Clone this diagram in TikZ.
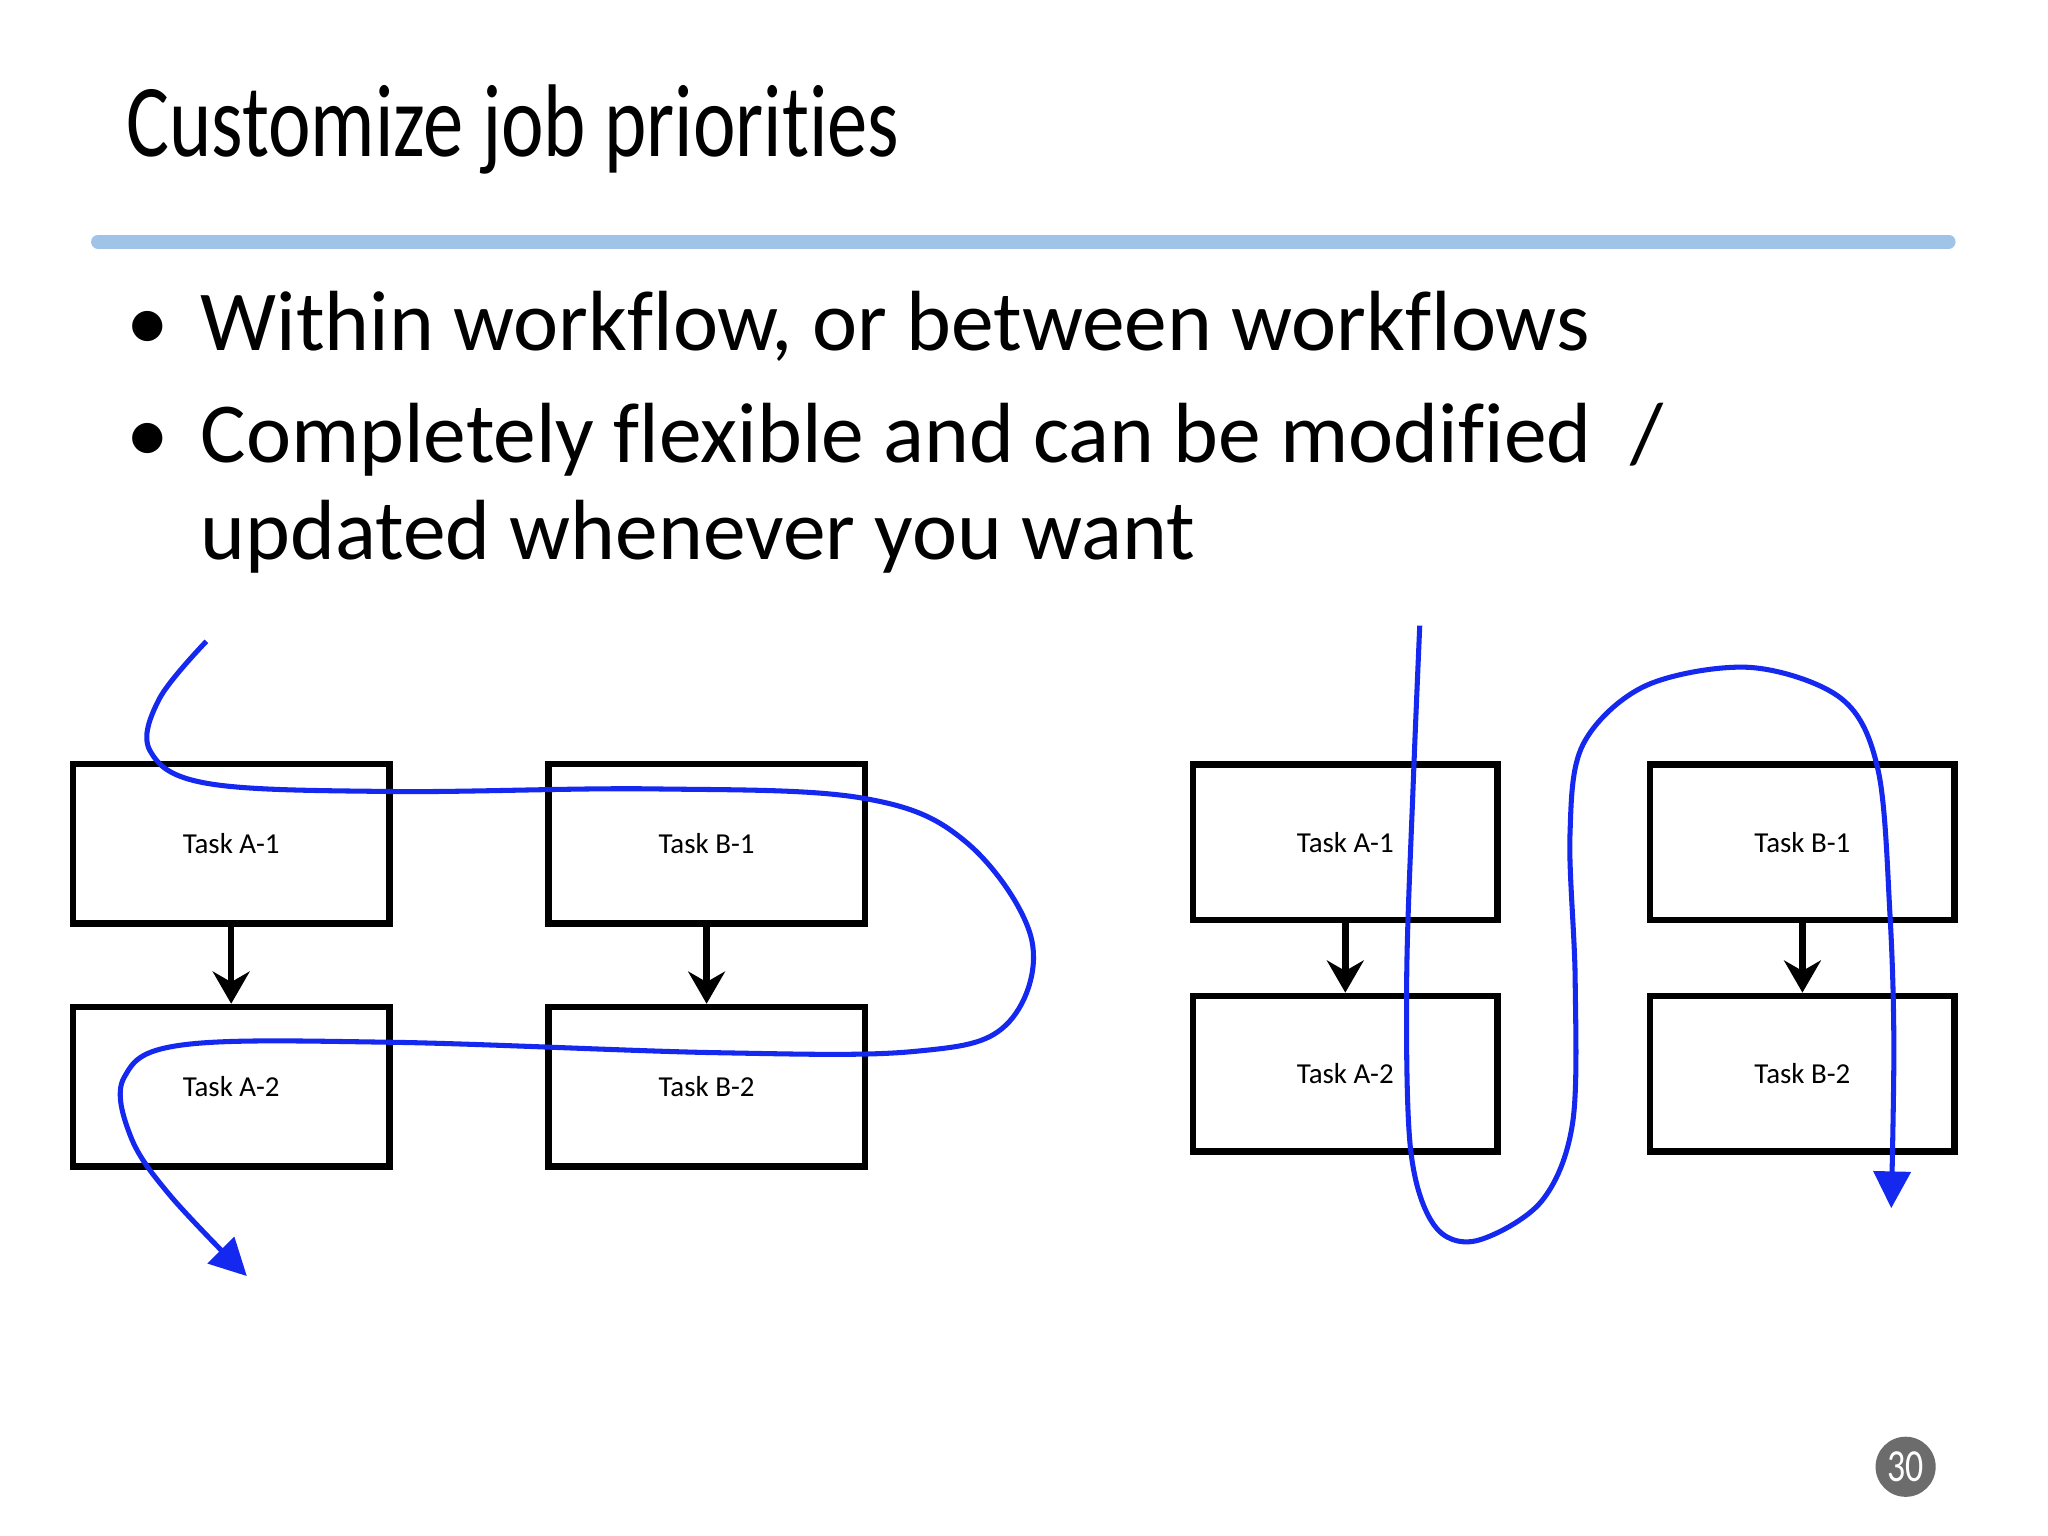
\documentclass[tikz,border=0pt]{standalone}
\usepackage{fontspec}
\setmainfont[Ligatures=NoCommon]{Carlito}
\newfontfamily\titlefont[FakeStretch=0.78,Ligatures=NoCommon]{Carlito}
\usetikzlibrary{arrows.meta}
\definecolor{flow}{RGB}{20,40,240}
\definecolor{rulec}{RGB}{160,195,232}
\tikzset{task/.style={draw,line width=1.4pt,minimum width=2.42cm,minimum height=1.22cm,font=\fontsize{6.3pt}{7pt}\selectfont,inner sep=0pt},
 dep/.style={-{Stealth[length=7pt,width=8pt]},line width=1.4pt},
 flowline/.style={flow,line width=1.1pt,-{Triangle[length=8pt,width=8pt]}},
 bul/.style={anchor=base west,font=\fontsize{18.6pt}{22pt}\selectfont}}
\begin{document}
\begin{tikzpicture}[x=0.01cm,y=-0.01cm]
\useasboundingbox (0,0) rectangle (1568,1176);
\node[anchor=base west,font=\titlefont\fontsize{22.5pt}{26pt}\selectfont,inner sep=0pt] (title) at (96,120) {Customize job priorities};
\draw[rulec,line width=3pt,line cap=round] (75,185) coordinate (r1) -- (1492,185) coordinate (r2);
\node[bul,inner sep=0pt] (bl1) at (96,268) {\textbullet};
\node[bul,inner sep=0pt] (b1) at (153,268) {Within workflow, or between workflows};
\node[bul,inner sep=0pt] (bl2) at (96,354) {\textbullet};
\node[bul,inner sep=0pt] (b2) at (153,354) {Completely flexible and can be modified~~/};
\node[bul,inner sep=0pt] (b3) at (153,428) {updated whenever you want};
% left
\node[task] (la1) at (177,646) {Task A-1};
\node[task] (lb1) at (541,646) {Task B-1};
\node[task] (la2) at (177,832) {Task A-2};
\node[task] (lb2) at (541,832) {Task B-2};
\draw[dep] (la1) -- (la2);
\draw[dep] (lb1) -- (lb2);
% right
\node[task,minimum width=2.33cm,minimum height=1.19cm] (ra1) at (1030,645) {Task A-1};
\node[task,minimum width=2.33cm,minimum height=1.19cm] (rb1) at (1380,645) {Task B-1};
\node[task,minimum width=2.33cm,minimum height=1.19cm] (ra2) at (1030,822) {Task A-2};
\node[task,minimum width=2.33cm,minimum height=1.19cm] (rb2) at (1380,822) {Task B-2};
\draw[dep] (ra1) -- (ra2);
\draw[dep] (rb1) -- (rb2);
% flows
\draw[flowline] plot[smooth,tension=0.6] coordinates {(158,491) (122,535) (115,575) (160,600) (300,606) (500,604) (660,611) (740,645) (790,720) (770,785) (700,805) (550,806) (300,798) (140,800) (95,825) (100,870) (130,915) (189,977)};
\draw[flowline] plot[smooth,tension=0.55] coordinates {(1087,479) (1082,600) (1077,750) (1080,880) (1098,938) (1130,950) (1180,920) (1204,860) (1206,750) (1202,640) (1212,570) (1260,525) (1340,511) (1410,535) (1438,590) (1447,700) (1450,800) (1448,925)};
\node[circle,fill=gray!85!black,minimum size=0.46cm,inner sep=0pt,text=white,font=\titlefont\fontsize{10pt}{11pt}\selectfont] (pg) at (1459,1123) {30};
\end{tikzpicture}
\end{document}
